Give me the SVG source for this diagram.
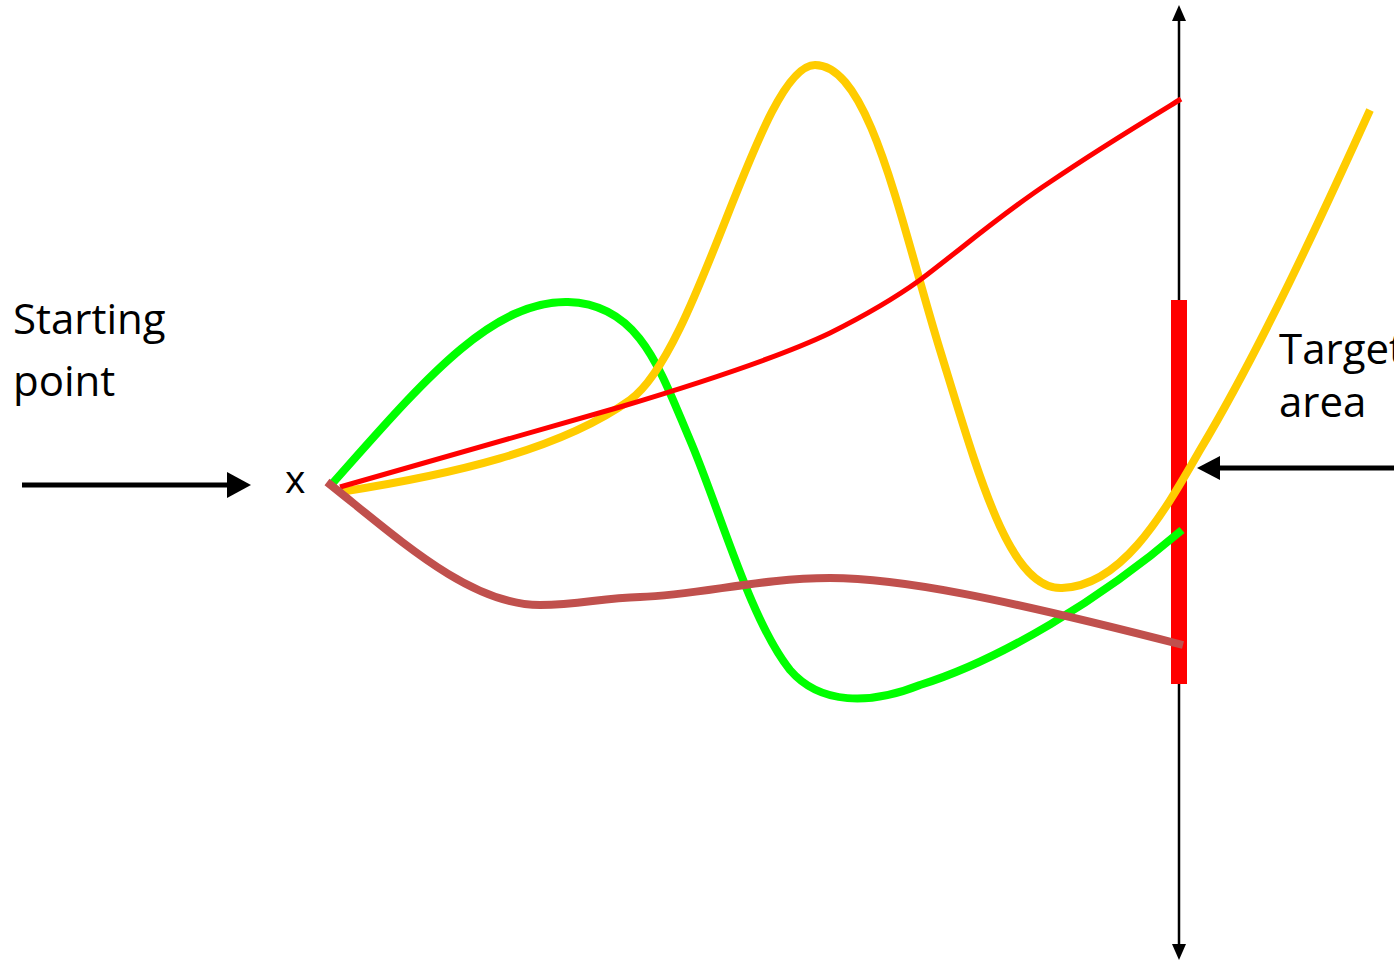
<svg xmlns="http://www.w3.org/2000/svg" width="1394" height="962" viewBox="0 0 1394 962">
<style>
  .lbl { font-family: "Open Sans", "Noto Sans", sans-serif; font-size: 42px; fill: #000; }
  .curve { fill: none; stroke-linecap: butt; stroke-linejoin: round; }
</style>
<rect width="1394" height="962" fill="#fff"/>
<g id="axis">
  <line x1="1179" y1="20" x2="1179" y2="945" stroke="#000" stroke-width="2.5"/>
  <path d="M1179,5 L1186,21 L1172,21 Z" fill="#000"/>
  <path d="M1179,960 L1186,944 L1172,944 Z" fill="#000"/>
</g>
<g id="target-bar">
  <rect x="1171" y="300" width="16" height="384" fill="#ff0000"/>
</g>
<g id="connectors">
  <path class="curve" d="M331,485 C420,385 490,300 568,302 C640,304 660,370 690,440 C720,510 750,620 790,670 C820,705 870,705 920,685 C1000,660 1100,600 1182,530" stroke="#00ff00" stroke-width="8"/>
  <path class="curve" d="M340,492 C450,475 560,450 630,400 C700,350 760,65 815,65 C870,65 900,220 940,350 C980,480 1010,590 1062,588 C1120,586 1160,520 1200,450 C1260,350 1320,220 1370,110" stroke="#ffcc00" stroke-width="8"/>
  <path class="curve" d="M340,487 L620,407 C700,383 780,357 830,333 C870,313 895,298 920,280 C960,250 1000,215 1050,182 C1100,148 1140,124 1181,99" stroke="#ff0000" stroke-width="5"/>
  <path class="curve" d="M327,482 C400,540 470,605 540,605 C580,605 600,598 640,597 C700,595 760,578 830,578 C900,578 1000,598 1183,645" stroke="#c0504d" stroke-width="8"/>
  <line x1="22" y1="485" x2="228" y2="485" stroke="#000" stroke-width="5"/>
  <path d="M251,485 L227,472 L227,498 Z" fill="#000"/>
  <line x1="1394" y1="468" x2="1218" y2="468" stroke="#000" stroke-width="5"/>
  <path d="M1197,468 L1220,456 L1220,480 Z" fill="#000"/>
</g>
<g id="start-label">
  <text class="lbl" x="13" y="334">Starting</text>
  <text class="lbl" x="13" y="396">point</text>
</g>
<g id="start-point">
  <text class="lbl" x="285" y="493" style="font-size:39px">x</text>
</g>
<g id="target-label">
  <text class="lbl" x="1279" y="364">Target</text>
  <text class="lbl" x="1279" y="417">area</text>
</g>
</svg>
